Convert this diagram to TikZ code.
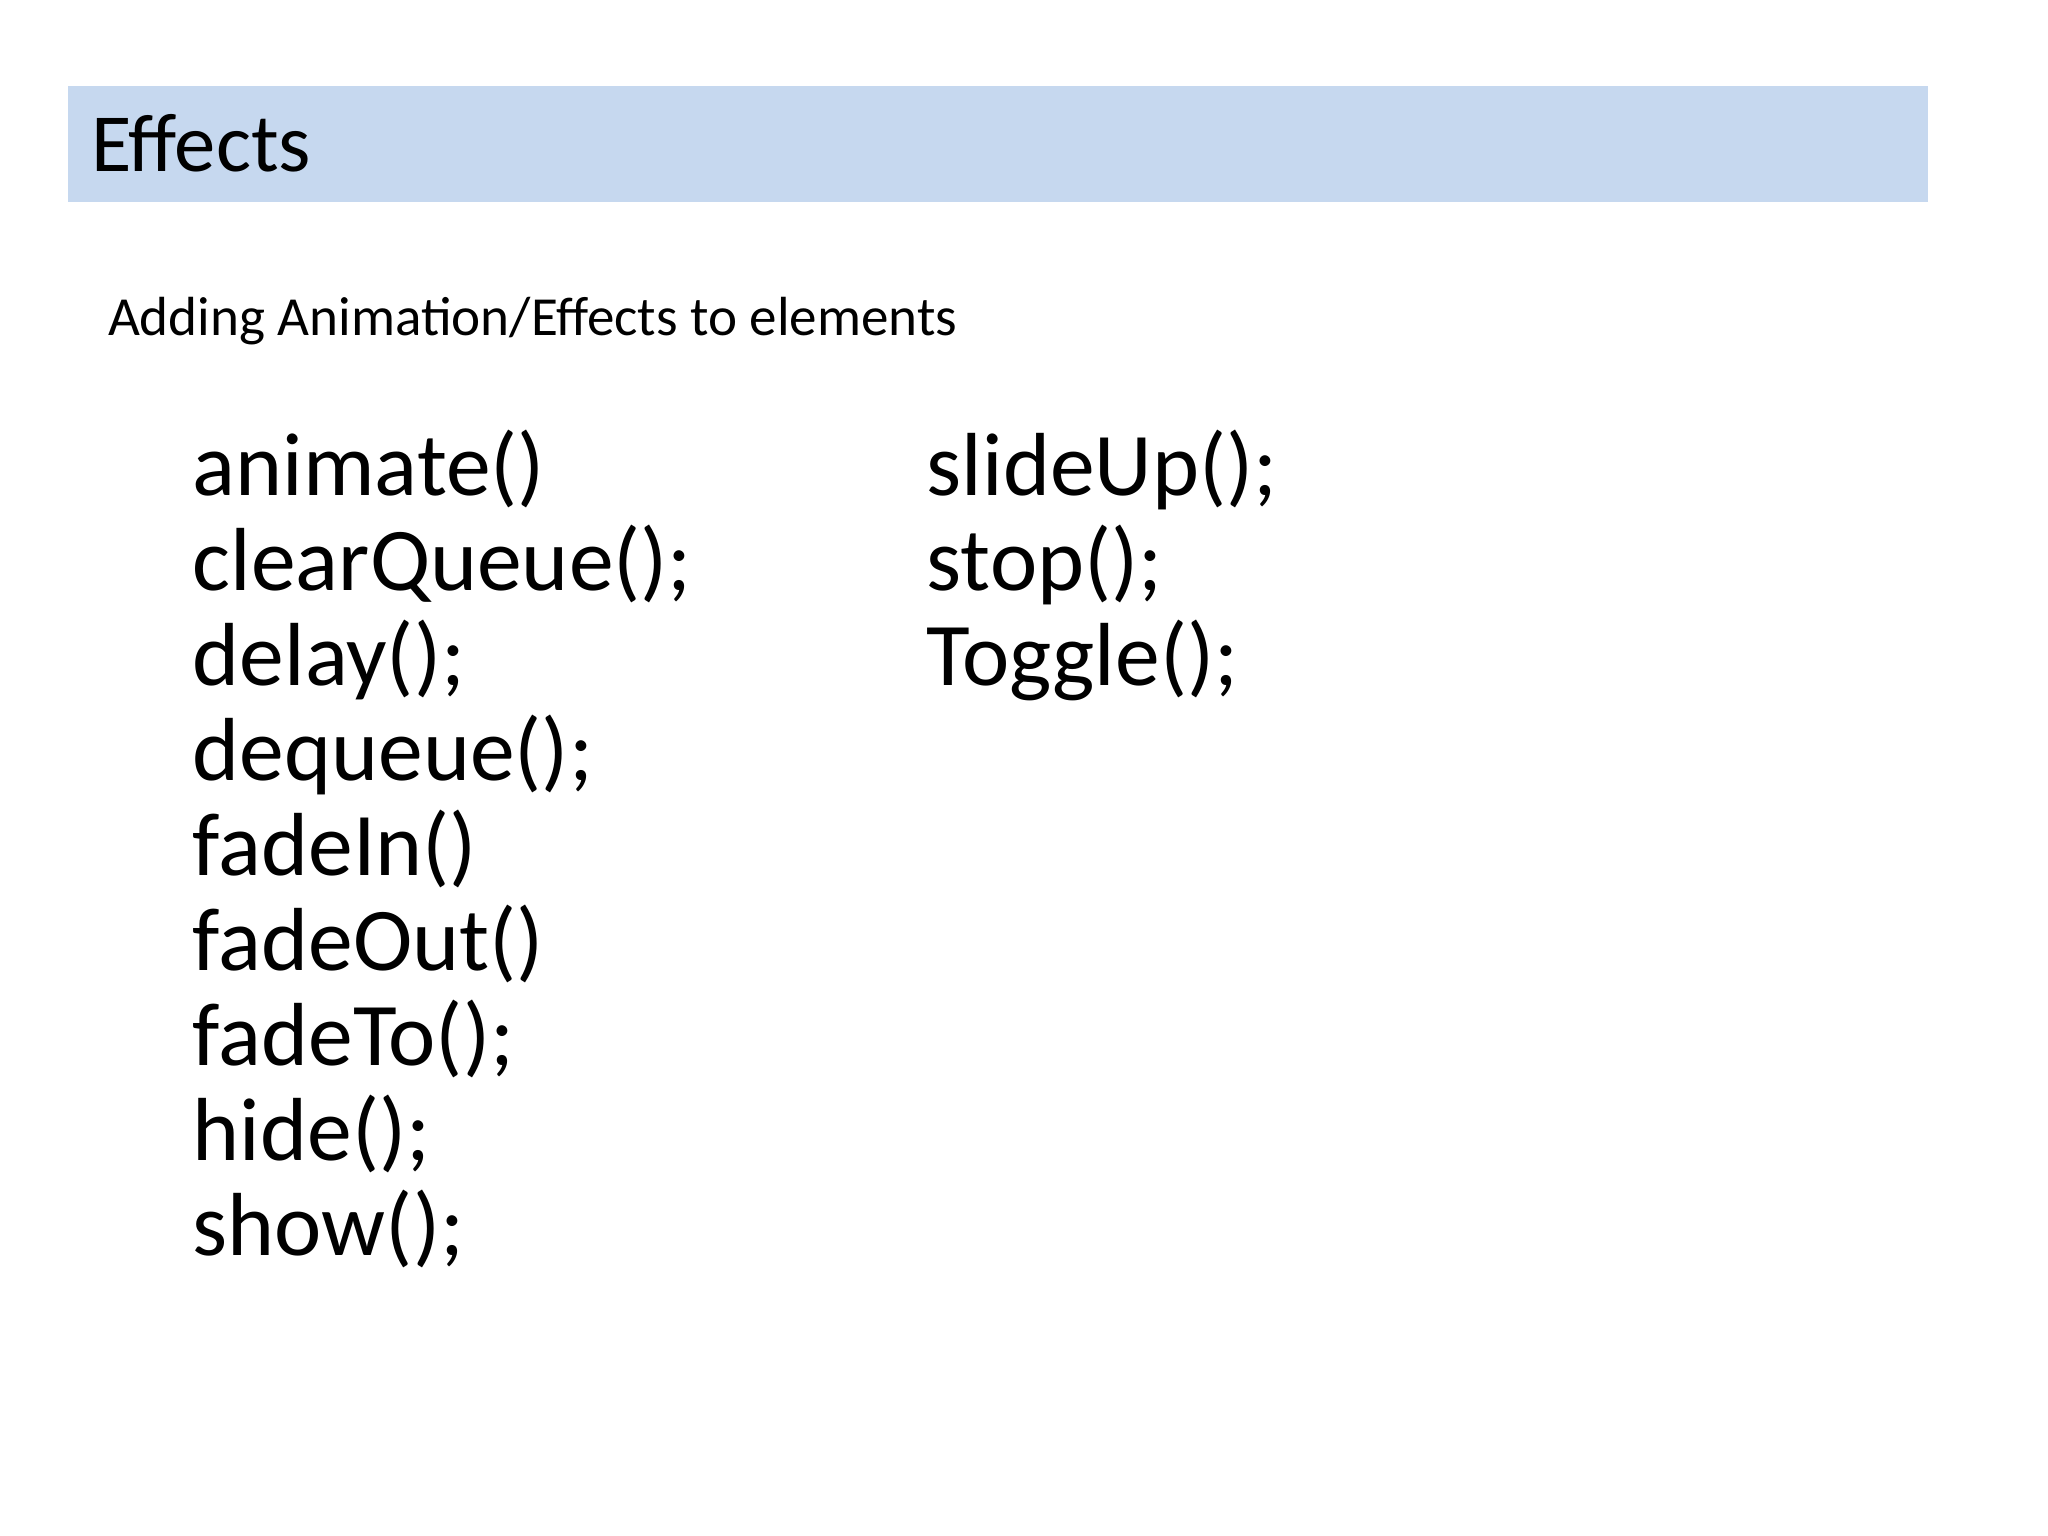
\documentclass[tikz,border=0pt]{standalone}
\usepackage{fontspec}
\setmainfont{Carlito}
\definecolor{hdr}{HTML}{C6D8EF}
\begin{document}
\begin{tikzpicture}[x=0.01cm,y=-0.01cm,
  item/.style={anchor=base west,inner sep=0pt,font=\fontsize{19.5}{20}\selectfont}]
\useasboundingbox[fill=white] (0,0) rectangle (1568,1176);
\fill[hdr] (52,66) rectangle (1476,155);
\node[anchor=base west,inner sep=0pt,font=\fontsize{18}{20}\selectfont] (title) at (69,131) {Effects};
\node[anchor=base west,inner sep=0pt,font=\fontsize{12}{14}\selectfont] (sub) at (82,257) {Adding Animation/Effects to elements};
\foreach \t [count=\i from 0] in {animate(),clearQueue();,delay();,dequeue();,fadeIn(),fadeOut(),fadeTo();,hide();,show();}
  \node[item] (l\i) at (147,379+72.8*\i) {\t};
\foreach \t [count=\i from 0] in {slideUp();,stop();,Toggle();}
  \node[item] (r\i) at (709,379+72.8*\i) {\t};
\end{tikzpicture}
\end{document}
